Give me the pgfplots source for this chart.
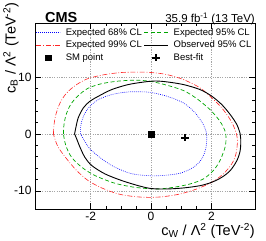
\documentclass[border=0pt]{standalone}
\usepackage{fontspec}
\setmainfont{Liberation Sans}
\usepackage{pgfplots}
\pgfplotsset{compat=1.18}
\pgfplotsset{
  mylegline/.style={legend image code/.code={\draw[##1] (0pt,0pt) -- (24pt,0pt);}},
  mylegmark/.style={legend image code/.code={\draw[##1] plot coordinates {(12pt,0pt)};}},
}
\begin{document}
\begin{tikzpicture}
\begin{axis}[
  name=ax,
  scale only axis, width=220pt, height=186pt,
  xmin=-3.84, xmax=3.44, ymin=-13.2, ymax=19.5,
  xtick={-2,0,2}, ytick={-10,0,10},
  minor x tick num=3, minor y tick num=4,
  major tick length=6pt, minor tick length=3pt,
  tick style={black, line width=0.4pt},
  grid=major,
  major grid style={gray!70, dash pattern=on 1.2pt off 1.2pt, line width=0.5pt},
  axis line style={line width=0.6pt},
  tick label style={font=\fontsize{12}{12}\selectfont},
  /pgf/number format/assume math mode=true,
  every axis x label/.style={at={(axis description cs:1,0)}, anchor=north east, yshift=-14pt, inner sep=0pt, font=\fontsize{14.5}{14.5}\selectfont},
  every axis y label/.style={at={(axis description cs:-0.1455,1.11)}, anchor=north east, rotate=90, inner sep=0pt, font=\fontsize{14.5}{14.5}\selectfont},
  xlabel={c\textsubscript{W} / Λ\textsuperscript{2} (TeV\textsuperscript{-2})},
  ylabel={c\textsubscript{B} / Λ\textsuperscript{2} (TeV\textsuperscript{-2})},
  legend columns=2,
  legend cell align=left,
  legend style={at={(axis description cs:0,1)}, anchor=north west, xshift=1pt, yshift=-5pt,
    draw=none, fill=none, inner sep=0pt, row sep=3.5pt,
    font=\fontsize{9.5}{9.5}\selectfont,
    nodes={inner sep=0pt, text height=7pt, text depth=2pt},
    /tikz/every odd column/.append style={column sep=5pt},
    /tikz/every even column/.append style={column sep=2pt}},
  mylegline,
]
\addplot[color=blue, dash pattern=on 0.8pt off 1.2pt, line width=0.6pt, smooth] coordinates {
(-2.33,0) (-2.32,1.64) (-2.21,3.4) (-2.02,4.87) (-1.74,6.04) (-1.3,6.92) (-0.75,7.39) (-0.2,7.39) (0,7.3)
(0.52,6.63) (1.07,5.46) (1.46,3.7) (1.73,1.64) (1.84,0) (1.82,-2.35) (1.68,-4.4) (1.4,-5.87) (0.96,-6.92)
(0.41,-7.3) (-0.05,-7.35) (-0.64,-7.0) (-1.19,-5.87) (-1.63,-4.4) (-2.02,-2.64) (-2.24,-0.88) (-2.33,0)};
\addlegendentry{Expected 68\% CL}
\addplot[color=green!65!black, dash pattern=on 4pt off 2.5pt, line width=0.7pt, smooth] coordinates {
(-2.9,0) (-2.88,1.64) (-2.81,3.4) (-2.66,5.16) (-2.43,6.63) (-2.1,7.98) (-1.66,8.8) (-1.11,9.27) (-0.52,9.45)
(0,9.22) (0.52,8.57) (1.07,7.63) (1.51,6.22) (1.95,4.28) (2.28,2.23) (2.45,0.47) (2.48,-0.8) (2.45,-2.35)
(2.28,-4.7) (2.06,-6.45) (1.73,-7.92) (1.29,-8.8) (0.74,-9.39) (0.19,-9.68) (-0.53,-9.39) (-1.19,-8.68)
(-1.85,-7.33) (-2.29,-5.87) (-2.63,-4.1) (-2.82,-2.05) (-2.9,0)};
\addlegendentry{Expected 95\% CL}
\addplot[color=red!85, dash pattern=on 5pt off 1.8pt on 0.8pt off 1.8pt, line width=0.6pt, smooth] coordinates {
(-3.23,0) (-3.21,1.64) (-3.15,3.4) (-3.01,5.46) (-2.79,7.22) (-2.46,8.68) (-2.08,9.74) (-1.52,10.44) (-0.97,10.8)
(-0.42,10.86) (0,10.8) (0.52,10.44) (1.07,9.56) (1.62,8.1) (2.01,6.34) (2.34,4.58) (2.62,2.52) (2.78,0.76)
(2.86,-1.0) (2.81,-3.52) (2.67,-5.28) (2.39,-7.04) (2.01,-8.5) (1.51,-9.68) (0.96,-10.56) (0.41,-11.03)
(-0.03,-11.15) (-0.53,-11.03) (-1.08,-10.56) (-1.63,-9.5) (-2.08,-8.21) (-2.46,-6.45) (-2.79,-4.4)
(-3.07,-2.35) (-3.2,-0.59) (-3.23,0)};
\addlegendentry{Expected 99\% CL}
\addplot[color=black, line width=0.9pt, smooth] coordinates {
(-2.53,0) (-2.49,1.06) (-2.41,2.82) (-2.24,4.58) (-2.02,5.75) (-1.74,6.63) (-1.3,7.8) (-0.75,8.68) (-0.2,9.15)
(0.15,9.3) (0.52,9.15) (1.07,8.68) (1.62,7.8) (2.01,6.63) (2.34,5.16) (2.62,3.4) (2.84,1.64) (2.95,0)
(2.97,-1.0) (2.95,-2.93) (2.84,-4.7) (2.62,-6.45) (2.34,-7.63) (2.01,-8.5) (1.62,-9.1) (1.07,-9.5)
(0.52,-9.68) (0,-9.6) (-0.42,-9.1) (-0.97,-8.2) (-1.52,-7.04) (-1.96,-5.57) (-2.19,-4.1) (-2.35,-2.35)
(-2.46,-0.88) (-2.53,0)};
\addlegendentry{Observed 95\% CL}
\addplot[only marks, mark=square*, mark size=2.8pt, color=black, mylegmark] coordinates {(0,0)};
\addlegendentry{SM point}
\addplot[only marks, mark=+, mark size=3.8pt, color=black, mark options={line width=2.2pt}, mylegmark] coordinates {(1.12,-0.65)};
\addlegendentry{Best-fit}
\end{axis}
\node[anchor=base west, inner sep=0pt, font=\fontsize{14.5}{14.5}\selectfont\bfseries] at ([xshift=10pt,yshift=0.5pt]ax.north west) {CMS};
\node[anchor=base east, inner sep=0pt, font=\fontsize{11.5}{11.5}\selectfont] at ([yshift=0.5pt]ax.north east) {35.9 fb\textsuperscript{-1} (13 TeV)};
\pgfresetboundingbox
\path[use as bounding box] ([shift={(-35pt,-32pt)}]ax.south west) rectangle ([shift={(11pt,23pt)}]ax.north east);
\end{tikzpicture}
\end{document}
